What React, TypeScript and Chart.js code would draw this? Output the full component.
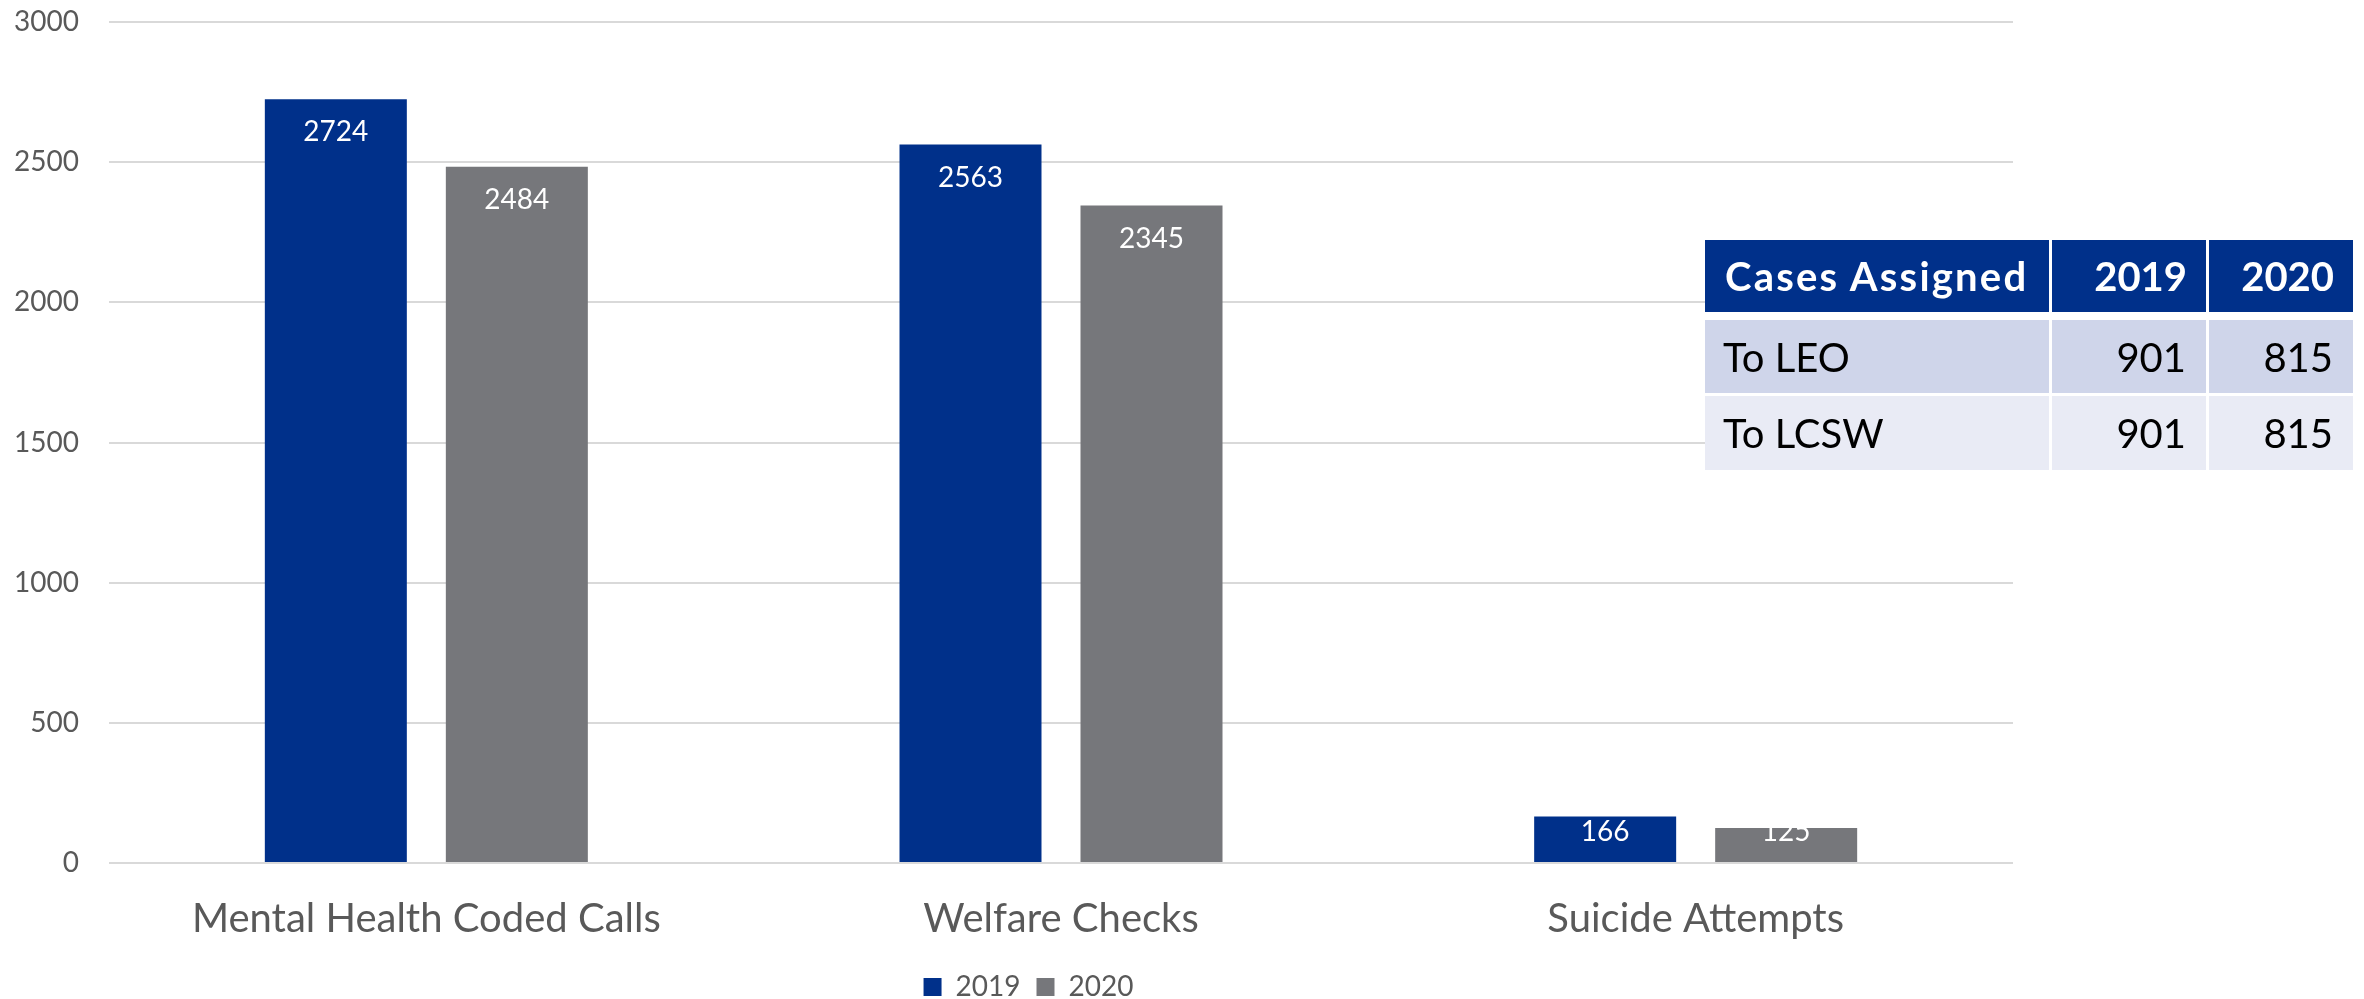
import React, { useEffect, useRef } from "react";
import { Chart, registerables } from "chart.js";

Chart.register(...registerables);

const categories = ["Mental Health Coded Calls", "Welfare Checks", "Suicide Attempts"];
const seriesNames = ["2019", "2020"];
const values2019 = [2724, 2563, 166];
const values2020 = [2484, 2345, 125];
const yMin = 0;
const yMax = 3000;
const yStep = 500;

const tableHeader = ["Cases Assigned", "2019", "2020"];
const tableRowLabels = ["To LEO", "To LCSW"];
const table2019 = [901, 901];
const table2020 = [815, 815];

const BLUE = "#00308A";
const GRAY = "#76777B";
const TEXT = "#595959";
const FONT = "Lato, 'Open Sans', sans-serif";

const barLabelPlugin = {
  id: "barLabels",
  afterDatasetsDraw(chart: any) {
    const ctx = chart.ctx;
    ctx.save();
    ctx.fillStyle = "#FFFFFF";
    ctx.font = `28px ${FONT}`;
    ctx.textAlign = "center";
    ctx.textBaseline = "middle";
    chart.data.datasets.forEach((ds: any, di: number) => {
      const meta = chart.getDatasetMeta(di);
      meta.data.forEach((el: any, i: number) => {
        const cy = Math.min(el.y + 33, el.base - 30);
        ctx.fillText(String(ds.data[i]), el.x, cy);
      });
    });
    ctx.restore();
  },
};

// nudges the legend box so it sits where the reference legend sits
const legendNudgePlugin = {
  id: "legendNudge",
  afterLayout(chart: any) {
    const lg = chart.legend;
    if (!lg) return;
    lg.left += 22;
    lg.right += 22;
    lg.top += 12;
    lg.bottom += 12;
  },
};

function ChartCanvas() {
  const ref = useRef<HTMLCanvasElement | null>(null);
  useEffect(() => {
    if (!ref.current) return;
    const chart = new Chart(ref.current, {
      type: "bar",
      data: {
        labels: categories,
        datasets: [
          {
            label: seriesNames[0],
            data: values2019,
            backgroundColor: BLUE,
            categoryPercentage: 0.5704,
            barPercentage: 0.7845,
          },
          {
            label: seriesNames[1],
            data: values2020,
            backgroundColor: GRAY,
            categoryPercentage: 0.5704,
            barPercentage: 0.7845,
          },
        ],
      },
      options: {
        animation: false,
        responsive: true,
        maintainAspectRatio: false,
        layout: { padding: { left: 0, top: 22, right: 351, bottom: 0 } },
        plugins: {
          tooltip: { enabled: false },
          legend: {
            position: "bottom",
            labels: {
              boxWidth: 18,
              boxHeight: 18,
              padding: 16,
              color: TEXT,
              font: { family: FONT, size: 28 },
            },
          },
        },
        scales: {
          x: {
            grid: { display: false, drawTicks: false },
            border: { display: false },
            ticks: { color: TEXT, font: { family: FONT, size: 40 }, padding: 32, maxRotation: 0 },
            afterFit: (s: any) => {
              s.height = 82;
            },
          },
          y: {
            min: yMin,
            max: yMax,
            grid: {
              color: "#D9D9D9",
              lineWidth: 2,
              drawTicks: true,
              tickLength: 30,
              tickColor: "rgba(0,0,0,0)",
            },
            border: { display: false },
            ticks: {
              stepSize: yStep,
              color: TEXT,
              font: { family: FONT, size: 28 },
              padding: 0,
              callback: (v: any) => String(v),
            },
            afterFit: (s: any) => {
              s.width = 109;
            },
          },
        },
      },
      plugins: [barLabelPlugin, legendNudgePlugin],
    });
    document.fonts?.ready.then(() => chart.update());
    return () => chart.destroy();
  }, []);
  return <canvas ref={ref} />;
}

function CasesTable() {
  const colWidths = [344, 154, 144];
  const cell = (bg: string, extra: React.CSSProperties = {}): React.CSSProperties => ({
    background: bg,
    display: "flex",
    alignItems: "center",
    boxSizing: "border-box",
    fontFamily: FONT,
    fontSize: 40,
    whiteSpace: "nowrap",
    ...extra,
  });
  const rowBgs = ["#CFD5EA", "#E9EBF5"];
  const rowHeights = [73, 74];
  return (
    <div
      style={{
        position: "absolute",
        left: 1705,
        top: 240,
        display: "grid",
        gridTemplateColumns: colWidths.map((w) => `${w}px`).join(" "),
        columnGap: 3,
        rowGap: 0,
      }}
    >
      {tableHeader.map((h, i) => (
        <div
          key={"h" + i}
          style={cell(BLUE, {
            height: 72,
            marginBottom: 8,
            color: "#FFFFFF",
            fontWeight: 700,
            letterSpacing: i === 0 ? 2.2 : 0,
            justifyContent: i === 0 ? "flex-start" : "flex-end",
            paddingLeft: i === 0 ? 20 : 0,
            paddingRight: i === 0 ? 0 : 19,
          })}
        >
          {h}
        </div>
      ))}
      {tableRowLabels.map((lbl, r) => (
        <React.Fragment key={"r" + r}>
          <div
            style={cell(rowBgs[r], {
              height: rowHeights[r],
              marginBottom: r === 0 ? 3 : 0,
              color: "#000000",
              justifyContent: "flex-start",
              paddingLeft: 18,
            })}
          >
            {lbl}
          </div>
          <div
            style={cell(rowBgs[r], {
              height: rowHeights[r],
              marginBottom: r === 0 ? 3 : 0,
              color: "#000000",
              justifyContent: "flex-end",
              paddingRight: 20,
            })}
          >
            {table2019[r]}
          </div>
          <div
            style={cell(rowBgs[r], {
              height: rowHeights[r],
              marginBottom: r === 0 ? 3 : 0,
              color: "#000000",
              justifyContent: "flex-end",
              paddingRight: 20,
            })}
          >
            {table2020[r]}
          </div>
        </React.Fragment>
      ))}
    </div>
  );
}

export default function App() {
  return (
    <div
      style={{
        position: "absolute",
        left: 0,
        top: 0,
        width: 2364,
        height: 999,
        background: "#FFFFFF",
        overflow: "hidden",
      }}
    >
      <div style={{ position: "absolute", left: 0, top: 0, width: 2364, height: 999 }}>
        <ChartCanvas />
      </div>
      <CasesTable />
    </div>
  );
}
